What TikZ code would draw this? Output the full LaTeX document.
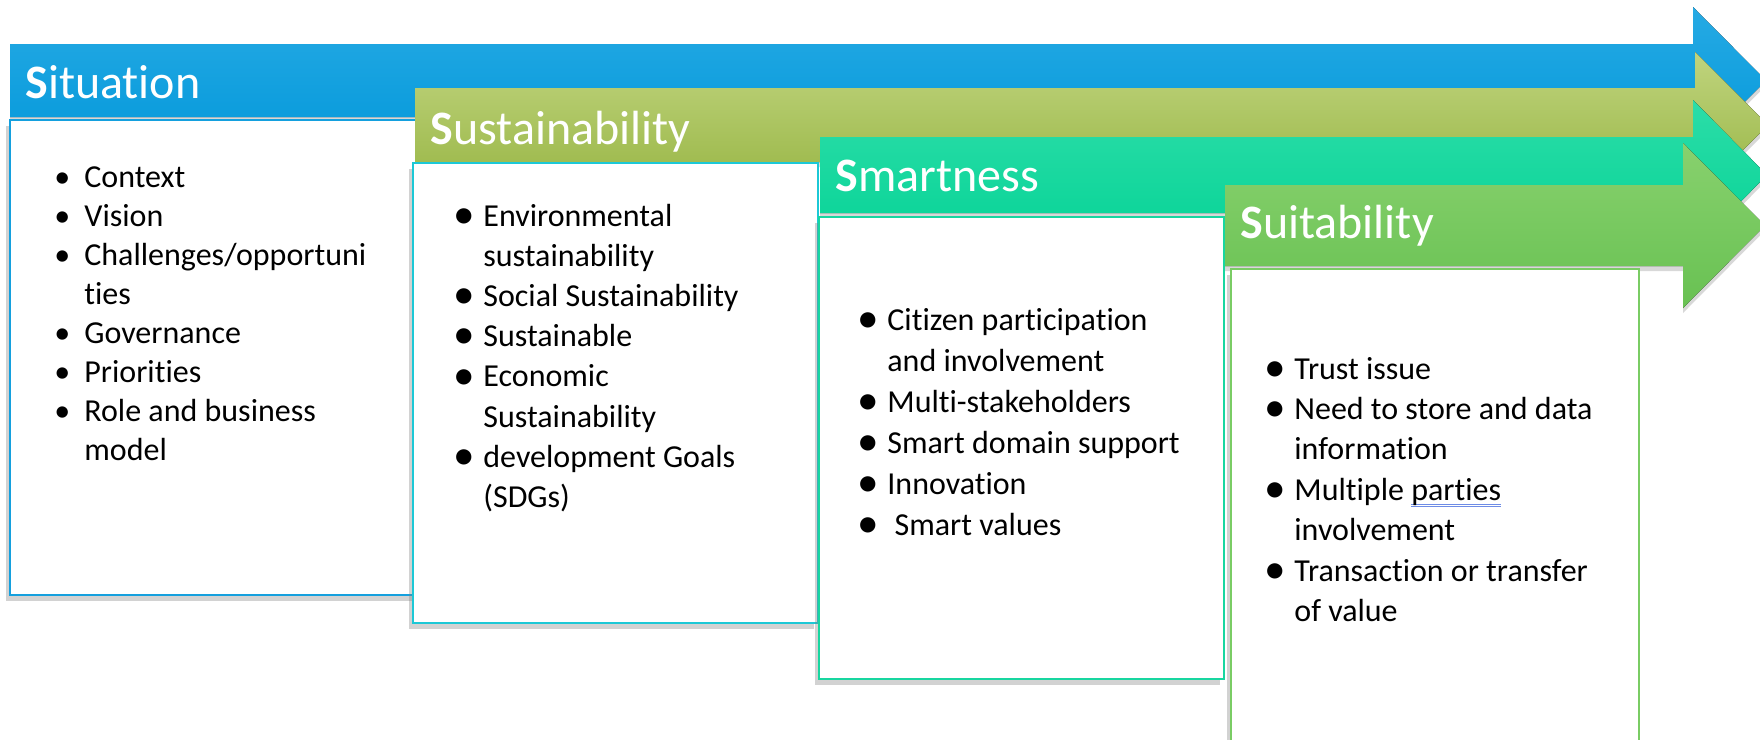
\documentclass[tikz,border=0pt]{standalone}
\usepackage{fontspec}
\setmainfont{Carlito}[Ligatures=NoCommon]
\usepackage{array}
\usetikzlibrary{shadows}

\definecolor{sitbluetop}{RGB}{38, 170, 228}
\definecolor{sitbluebot}{RGB}{3, 152, 218}
\definecolor{sitblue}{RGB}{20, 160, 222}
\definecolor{susolivetop}{RGB}{192, 212, 126}
\definecolor{susolivebot}{RGB}{150, 180, 66}
\definecolor{boxcyan}{RGB}{28, 200, 214}
\definecolor{smatealtop}{RGB}{44, 221, 168}
\definecolor{smatealbot}{RGB}{5, 211, 150}
\definecolor{smateal}{RGB}{24, 214, 160}
\definecolor{suigreentop}{RGB}{136, 209, 110}
\definecolor{suigreenbot}{RGB}{104, 193, 82}
\definecolor{suigreen}{RGB}{122, 204, 100}
\definecolor{ulblue}{RGB}{110, 140, 230}

\newcommand\bigbul{\raisebox{-0.15ex}{\scalebox{1.35}{\textbullet}}}
\newcommand\spellmark[1]{\setbox0=\hbox{#1}\rlap{\color{ulblue}\rule[-2pt]{\wd0}{0.3pt}}\rlap{\color{ulblue}\rule[-3pt]{\wd0}{0.3pt}}\box0}

\tikzset{
  arrowband/.style={drop shadow={shadow xshift=0pt, shadow yshift=-2.5pt, opacity=.3}},
  listbox/.style={fill=white, line width=1pt, drop shadow={shadow xshift=-2pt, shadow yshift=-3pt, opacity=.35}},
  headtext/.style={anchor=base west, inner sep=0pt, text=white, font=\fontsize{24}{28}\selectfont},
  itemlist/.style={anchor=base west, inner sep=0pt, font=\fontsize{16}{#1}\selectfont}
}

\begin{document}
\begin{tikzpicture}[x=0.5pt, y=-0.5pt]
  \useasboundingbox (0,0) rectangle (1760,739);
  \fill[white] (0,0) rectangle (1760,739);
  \clip (0,0) rectangle (1760,739);

  % Situation
  \fill[top color=sitbluetop, bottom color=sitbluebot, arrowband]
    (10,44) -- (1693,44) -- (1693,7) -- (1766,80.5) -- (1693,154) -- (1693,117) -- (10,117) -- cycle;
  \node[headtext] (sithead) at (25,98) {\textbf{S}ituation};
  \draw[listbox, draw=sitblue] (10,120) rectangle (420,595);
  \node[itemlist=19.5pt] (sitlist) at (54,187) {\begin{tabular}[t]{@{}p{15pt}@{}l@{}}
    \textbullet & Context\\
    \textbullet & Vision\\
    \textbullet & Challenges/opportuni\\
     & ties\\
    \textbullet & Governance\\
    \textbullet & Priorities\\
    \textbullet & Role and business\\
     & model
  \end{tabular}};

  % Sustainability
  \fill[top color=susolivetop, bottom color=susolivebot, arrowband]
    (415,88) -- (1695,88) -- (1695,52) -- (1768,125) -- (1695,198) -- (1695,162) -- (415,162) -- cycle;
  \node[headtext] (sushead) at (430,144) {\textbf{S}ustainability};
  \draw[listbox, draw=boxcyan] (413,163) rectangle (818,623);
  \node[itemlist=20.1pt] (suslist) at (453,226) {\begin{tabular}[t]{@{}p{15pt}@{}l@{}}
    \bigbul & Environmental\\
     & sustainability\\
    \bigbul & Social Sustainability\\
    \bigbul & Sustainable\\
    \bigbul & Economic\\
     & Sustainability\\
    \bigbul & development Goals\\
     & (SDGs)
  \end{tabular}};

  % Smartness
  \fill[top color=smatealtop, bottom color=smatealbot, arrowband]
    (820,137) -- (1693,137) -- (1693,100) -- (1767,175) -- (1693,250) -- (1693,213) -- (820,213) -- cycle;
  \node[headtext] (smahead) at (835,191) {\textbf{S}martness};
  \draw[listbox, draw=smateal] (819,217) rectangle (1224,679);
  \node[itemlist=20.5pt] (smalist) at (857,330) {\begin{tabular}[t]{@{}p{15pt}@{}l@{}}
    \bigbul & Citizen participation\\
     & and involvement\\
    \bigbul & Multi-stakeholders\\
    \bigbul & Smart domain support\\
    \bigbul & Innovation\\
    \bigbul & \ Smart values
  \end{tabular}};

  % Suitability
  \fill[top color=suigreentop, bottom color=suigreenbot, arrowband]
    (1225,185) -- (1683,185) -- (1683,143) -- (1765,225.5) -- (1683,308) -- (1683,266) -- (1225,266) -- cycle;
  \node[headtext] (suihead) at (1240,238) {\textbf{S}uitability};
  \draw[listbox, draw=suigreen] (1231,269) rectangle (1639,760);
  \node[itemlist=20.2pt] (suilist) at (1264,379) {\begin{tabular}[t]{@{}p{15pt}@{}l@{}}
    \bigbul & Trust issue\\
    \bigbul & Need to store and data\\
     & information\\
    \bigbul & Multiple \spellmark{parties}\\
     & involvement\\
    \bigbul & Transaction or transfer\\
     & of value
  \end{tabular}};
\end{tikzpicture}
\end{document}
